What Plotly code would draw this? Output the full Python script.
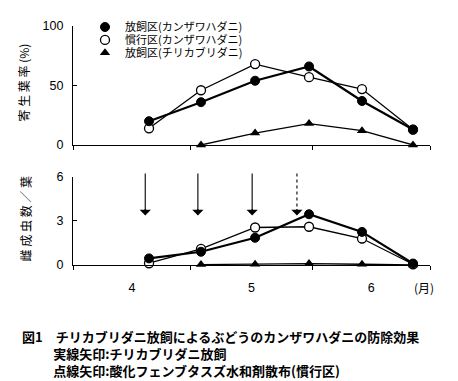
import plotly.graph_objects as go

# ---- data ----
dates = ["2000-04-20 09:00", "2000-05-03 15:00", "2000-05-17 10:00",
         "2000-05-31 04:00", "2000-06-13 16:00", "2000-06-26 16:00"]
series_names = ["放飼区(カンザワハダニ)", "慣行区(カンザワハダニ)", "放飼区(チリカブリダニ)"]

# 寄生葉率(%)
rate_release_kanzawa = [20, 36, 54, 66, 37, 13]
rate_conv_kanzawa = [14, 46, 68, 57, 47, 13]
rate_release_chiri = [None, 0, 10, 18, 12, 0]

# 雌成虫数／葉
count_release_kanzawa = [0.45, 0.9, 1.85, 3.45, 2.25, 0.1]
count_conv_kanzawa = [0.12, 1.1, 2.55, 2.6, 1.8, 0.05]
count_release_chiri = [None, 0.03, 0.05, 0.1, 0.05, 0.0]

# arrows: release of チリカブリダニ (solid) and acaricide spray (dotted)
arrow_dates = ["2000-04-19 10:00", "2000-05-02 20:00", "2000-05-16 16:00", "2000-05-28 02:00"]
arrow_kinds = ["solid", "solid", "solid", "dot"]

top_yticks = [0, 50, 100]
bottom_yticks = [0, 3, 6]
y_titles = ["寄 生 葉 率 (%)", "雌 成 虫 数 ／ 葉"]
caption_lines = ["図1　チリカブリダニ放飼によるぶどうのカンザワハダニの防除効果",
                 "\u3000\u3000\u2009\u2009実線矢印:チリカブリダニ放飼",
                 "\u3000\u3000\u2009\u2009点線矢印:酸化フェンブタスズ水和剤散布(慣行区)"]

# ---- styling ----
W, H = 458, 381
L, R, T, B = 73, 28, 24, 116
pw = W - L - R
ph = H - T - B
top_lo = (265 - 144) / ph
bot_hi = (265 - 176) / ph

CJK = "Noto Sans CJK JP"
NUM = "Liberation Sans, Arial"

styles = [
    dict(symbol="circle", fill="black", line=dict(color="black", width=1), lw=2.2),
    dict(symbol="circle", fill="white", line=dict(color="black", width=1.3), lw=1.3),
    dict(symbol="triangle-up", fill="black", line=dict(color="black", width=0), lw=1.3),
]

fig = go.Figure()

top_data = [rate_release_kanzawa, rate_conv_kanzawa, rate_release_chiri]
bot_data = [count_release_kanzawa, count_conv_kanzawa, count_release_chiri]
for i in [2, 1, 0]:
    st = styles[i]
    for data, xa, ya in [(top_data[i], "x", "y"), (bot_data[i], "x2", "y2")]:
        fig.add_trace(go.Scatter(x=dates, y=data, mode="lines+markers",
                                 xaxis=xa, yaxis=ya, showlegend=False, cliponaxis=False,
                                 line=dict(color="black", width=st["lw"]),
                                 marker=dict(symbol=st["symbol"], size=9, color=st["fill"],
                                             line=st["line"])))

# legend-only traces (markers only), one legend each
legend_rows = [25, 38, 51]
legend_keys = ["legend", "legend2", "legend3"]
for i, name in enumerate(series_names):
    st = styles[i]
    fig.add_trace(go.Scatter(x=[None], y=[None], mode="markers", name=name,
                             xaxis="x", yaxis="y", legend=legend_keys[i],
                             marker=dict(symbol=st["symbol"], size=9, color=st["fill"],
                                         line=st["line"])))

legend_common = dict(x=(85 - L) / pw, xanchor="left", yanchor="middle",
                     bgcolor="rgba(0,0,0,0)", font=dict(family=CJK, size=11, color="black"))
for key, row in zip(legend_keys, legend_rows):
    fig.layout[key] = dict(legend_common, y=(265 - row) / ph)

xcommon = dict(type="date", range=["2000-04-01", "2000-07-01"], dtick="M1",
               tick0="2000-04-01", ticklabelmode="period", tickformat="%-m",
               showline=True, linecolor="black", linewidth=1.3,
               ticks="outside", ticklen=4, tickcolor="black", tickwidth=1.2,
               showgrid=False, zeroline=False,
               tickfont=dict(family=NUM, size=12.5, color="black"))
ycommon = dict(showline=True, linecolor="black", linewidth=1.3,
               ticks="inside", ticklen=4, tickcolor="black", tickwidth=1.2,
               showgrid=False, zeroline=False, ticklabelstandoff=6,
               tickfont=dict(family=NUM, size=12.5, color="black"))

fig.update_layout(
    width=W, height=H,
    margin=dict(l=L, r=R, t=T, b=B),
    paper_bgcolor="white", plot_bgcolor="white",
    xaxis=dict(xcommon, anchor="y", showticklabels=False),
    xaxis2=dict(xcommon, anchor="y2", matches="x", ticklabelstandoff=7),
    yaxis=dict(ycommon, domain=[top_lo, 1], range=[0, 100], tickvals=top_yticks, anchor="x"),
    yaxis2=dict(ycommon, domain=[0, bot_hi], range=[0, 6], tickvals=bottom_yticks, anchor="x2"),
)

# y-axis titles (rotated)
for text, (px, py) in zip(y_titles, [(24, 81), (25, 219)]):
    fig.add_annotation(xref="paper", yref="paper", x=(px - L) / pw, y=(265 - py) / ph,
                       text=text, textangle=-90, showarrow=False,
                       xanchor="center", yanchor="middle",
                       font=dict(family=CJK, size=12, color="black"))

# arrows
shaft_top = (265 - 172.7) / ph
tip = (265 - 215) / ph
for d, kind in zip(arrow_dates, arrow_kinds):
    fig.add_shape(type="line", xref="x2", yref="paper", x0=d, x1=d, y0=shaft_top, y1=tip + 0.02,
                  line=dict(color="black", width=1.1, dash=kind))
    fig.add_annotation(xref="x2", yref="paper", x=d, y=tip, ax=0, ay=-8, text="",
                       showarrow=True, arrowhead=1, arrowsize=1.7, arrowwidth=1.1, arrowcolor="black")

# (月) label
fig.add_annotation(xref="paper", yref="paper", x=(424 - L) / pw, y=(265 - 288) / ph,
                   text="(月)", showarrow=False, xanchor="center", yanchor="middle",
                   font=dict(family=CJK, size=12, color="black"))

# caption (one block, left aligned)
fig.add_annotation(xref="paper", yref="paper", x=(20 - L) / pw, y=(265 - 325) / ph,
                   text="<br>".join(caption_lines), showarrow=False, xanchor="left", yanchor="top",
                   align="left", font=dict(family=CJK, size=13, color="black", weight="bold"))

fig.write_html("out.html", config={"displayModeBar": False},
               post_script="document.body.style.margin='0';")
